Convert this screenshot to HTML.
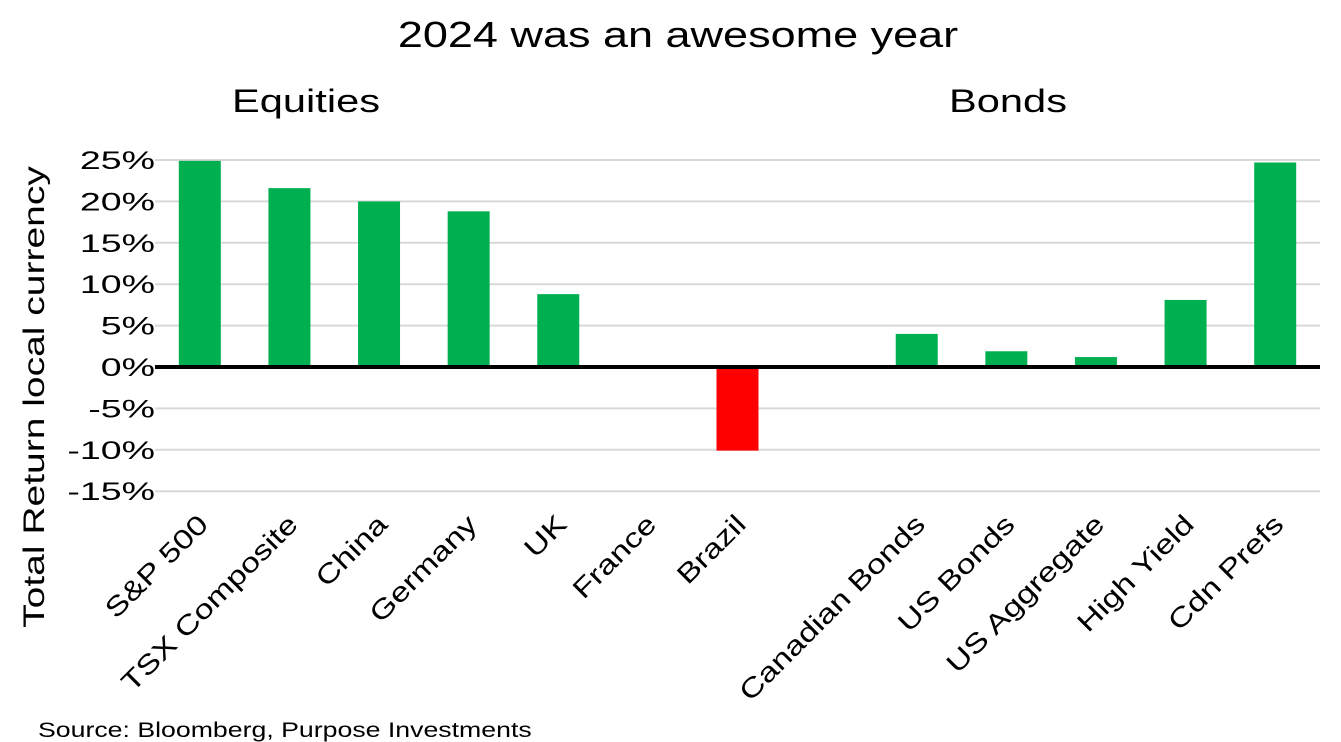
<!DOCTYPE html>
<html><head><meta charset="utf-8"><style>
html,body{margin:0;padding:0;background:#fff;}
svg{display:block;font-family:"Liberation Sans",sans-serif;}
</style></head><body>
<svg width="1341" height="742" viewBox="0 0 1341 742">
<text class="st" data-f="1.25" x="678" y="47" text-anchor="middle" font-size="36" fill="#000">2024 was an awesome year</text>
<text class="st" data-f="1.3" x="306" y="112" text-anchor="middle" font-size="32" fill="#000">Equities</text>
<text class="st" data-f="1.3" x="1008" y="112" text-anchor="middle" font-size="32" fill="#000">Bonds</text>
<text class="st" data-f="1.3" transform="translate(44,397) rotate(-90)" text-anchor="middle" font-size="30" fill="#000">Total Return local currency</text>
<g id="grid"></g><g id="bars"></g><g id="zero"></g><g id="ylabels"></g><g id="xlabels"></g>
<text class="st" data-f="1.27" x="38" y="737" font-size="21" fill="#000">Source: Bloomberg, Purpose Investments</text>
</svg>
<script>
const categories=["S&P 500","TSX Composite","China","Germany","UK","France","Brazil","","Canadian Bonds","US Bonds","US Aggregate","High Yield","Cdn Prefs"];
const values=[24.9,21.6,20.0,18.8,8.8,0,-10.1,null,4.0,1.9,1.2,8.1,24.7];
const yTicks=[25,20,15,10,5,0,-5,-10,-15];
const yTickLabels=["25%","20%","15%","10%","5%","0%","-5%","-10%","-15%"];
const NS="http://www.w3.org/2000/svg";
const x0=155,x1=1320,slot=(x1-x0)/categories.length;
function y(v){return 367-v*8.28;}
function xc(i){return x0+slot*(i+0.5);}
function mk(t,a,p){const e=document.createElementNS(NS,t);for(const k in a)e.setAttribute(k,a[k]);p.appendChild(e);return e;}
const grid=document.getElementById('grid'),yl=document.getElementById('ylabels');
yTicks.forEach((v,i)=>{
  if(v!==0){const l=mk('line',{x1:x0,x2:x1,y1:y(v),y2:y(v),stroke:'#d9d9d9','stroke-width':2},grid);
  
  }
  const t=mk('text',{x:155,y:y(v)+9,'text-anchor':'end','font-size':25,fill:'#000',class:'st','data-f':'1.5'},yl);
  t.textContent=yTickLabels[i];
  
  
});
const bars=document.getElementById('bars'),xl=document.getElementById('xlabels');
categories.forEach((c,i)=>{
  const v=values[i];
  if(v!==null&&v!==0){
    const top=Math.min(y(v),y(0)),h=Math.abs(y(v)-y(0));
    const r=mk('rect',{x:xc(i)-21,y:top,width:42,height:h,fill:v<0?'#ff0000':'#00b050'},bars);
    
    
  }
  if(c){
    const t=mk('text',{transform:'translate('+(xc(i)+10)+',526) rotate(-45)','text-anchor':'end','font-size':27,fill:'#000',class:'st','data-f':'1.25'},xl);
    t.textContent=c;
    
    
  }
});
const z=mk('line',{x1:x0,x2:x1,y1:y(0),y2:y(0),stroke:'#000','stroke-width':4},document.getElementById('zero'));


document.querySelectorAll('text.st').forEach(t=>{
  const f=parseFloat(t.getAttribute('data-f'));
  const w=t.getComputedTextLength();
  t.setAttribute('textLength',(w*f).toFixed(1));
  t.setAttribute('lengthAdjust','spacingAndGlyphs');
});
</script>
</body></html>
